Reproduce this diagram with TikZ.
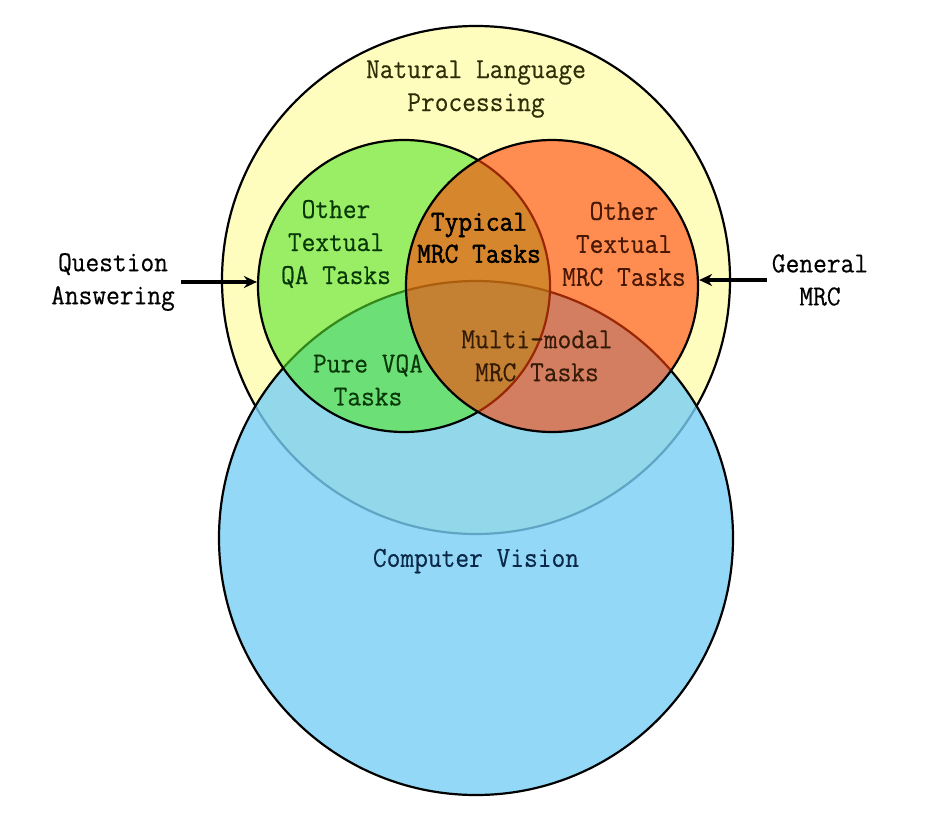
\documentclass[tikz,border=0pt]{standalone}
\usepackage{fontspec}
\setmonofont{Latin Modern Mono}[FakeStretch=0.92, FakeBold=0.4]
\newfontfamily\typicalfont{Latin Modern Mono}[FakeStretch=0.92, FakeBold=1.6]
\usepackage{tikz}
\usetikzlibrary{arrows.meta, positioning}
\definecolor{nlpyellow}{HTML}{FFFDBE}
\definecolor{cvblue}{HTML}{78CFF5}
\definecolor{qagreen}{HTML}{55E42B}
\definecolor{mrcorange}{HTML}{FF4107}
\definecolor{nlptext}{HTML}{2E2E08}
\definecolor{cvtext}{HTML}{0A2848}
\definecolor{qatext}{HTML}{083808}
\definecolor{mrctext}{HTML}{481804}
\definecolor{multitext}{HTML}{361C06}
\tikzset{
    fieldcircle/.style={
        circle, draw=black, fill=#1, line width=2.2pt, inner sep=0pt
    },
    fieldcircle/.default=nlpyellow,
    fieldlab/.style={
        font=\fontsize{29}{33}\selectfont\ttfamily, text=#1,
        align=center, inner sep=0pt
    },
    fieldlab/.default=black,
    pointer/.style={
        -{Stealth[length=13pt, width=12pt]}, line width=3.2pt, color=black
    },
}

\begin{document}
\begin{tikzpicture}[x=1pt, y=-1pt]
    \useasboundingbox (0,0) rectangle (942,817);

    \node[fieldcircle=nlpyellow, minimum size=508pt] (nlp) at (476,280) {};
    \node[fieldcircle=cvblue, fill opacity=0.8, minimum size=514pt] (cv) at (476,538) {};
    \node[fieldcircle=qagreen, fill opacity=0.6, minimum size=292pt] (qa) at (404,286) {};
    \node[fieldcircle=mrcorange, fill opacity=0.6, minimum size=292pt] (mrc) at (552,286) {};

    \node[fieldlab=nlptext] (nlplab) at (476,89) {Natural Language\\Processing};
    \node[fieldlab=cvtext] (cvlab) at (476,561) {Computer Vision};
    \node[fieldlab=qatext] (qalab) at (336,244) {Other\\Textual\\QA Tasks};
    \node[fieldlab=mrctext] (mrclab) at (624,244) {Other\\Textual\\MRC Tasks};
    \node[fieldlab=black, font=\fontsize{29}{32}\selectfont\typicalfont] (typlab) at (479,238) {Typical\\MRC Tasks};
    \node[fieldlab=multitext] (multilab) at (537,356) {Multi-modal\\MRC Tasks};
    \node[fieldlab=qatext] (vqalab) at (368,380) {Pure VQA\\Tasks};

    \node[fieldlab, inner xsep=6pt] (qaside) at (113,282) {Question\\Answering};
    \node[fieldlab, inner xsep=5pt] (mrcside) at (820,280) {General\\MRC};

    \draw[pointer] (qaside) -- (qaside -| qa.west);
    \draw[pointer] (mrcside) -- (mrcside -| mrc.east);
\end{tikzpicture}
\end{document}
